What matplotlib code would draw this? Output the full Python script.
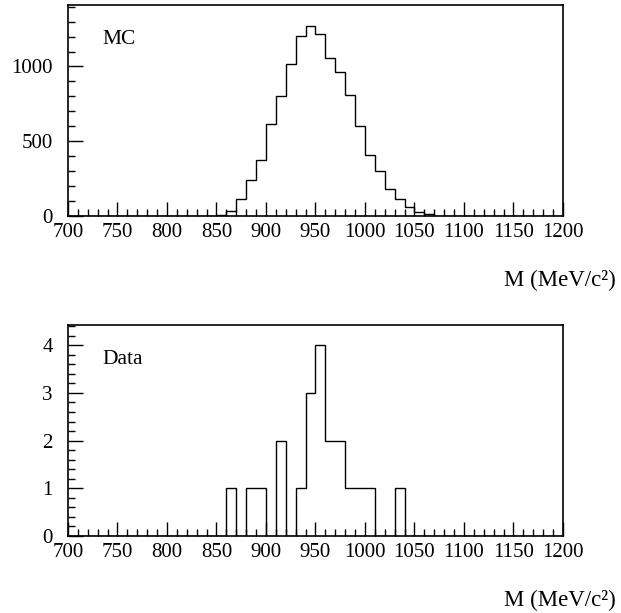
import numpy as np
import matplotlib
matplotlib.use("Agg")
import matplotlib.pyplot as plt
from matplotlib.ticker import MultipleLocator

# ----------------------------
# Data (10 MeV bins, 700-1200)
# ----------------------------
bin_edges = np.arange(700, 1201, 10)

mc_start = 850
mc_counts = [7, 33, 115, 238, 375, 618, 804, 1018, 1204, 1271,
             1216, 1056, 962, 807, 602, 409, 302, 182, 113, 58,
             24, 11, 3]

data_start = 860
data_counts = [1, 0, 1, 1, 0, 2, 0, 1, 3, 4,
               2, 2, 1, 1, 1, 0, 0, 1]

xlabel = "M (MeV/c²)"


def fill_hist(start, counts):
    h = np.zeros(len(bin_edges) - 1)
    i0 = int((start - bin_edges[0]) / 10)
    h[i0:i0 + len(counts)] = counts
    return h


mc_hist = fill_hist(mc_start, mc_counts)
data_hist = fill_hist(data_start, data_counts)

plt.rcParams['font.family'] = ['Liberation Serif', 'DejaVu Serif']

fig = plt.figure(figsize=(6.21, 6.13), dpi=100)
ax1 = fig.add_axes([0.1095, 0.6476, 0.797, 0.344])
ax2 = fig.add_axes([0.1095, 0.1256, 0.797, 0.344])


def style_axis(ax, ymax, major, minor):
    ax.set_xlim(700, 1200)
    ax.set_ylim(0, ymax)
    ax.xaxis.set_major_locator(MultipleLocator(50))
    ax.xaxis.set_minor_locator(MultipleLocator(10))
    ax.yaxis.set_major_locator(MultipleLocator(major))
    ax.yaxis.set_minor_locator(MultipleLocator(minor))
    ax.tick_params(which='both', direction='in', top=False, right=False,
                   labelsize=15, width=1.0, color='black')
    ax.tick_params(which='major', length=10, pad=5)
    ax.tick_params(which='minor', length=5)
    ax.tick_params(axis='y', which='major', length=11, pad=11)
    for s in ax.spines.values():
        s.set_linewidth(1.2)
    ax.text(1.107, -0.305, xlabel, transform=ax.transAxes, ha='right',
            va='center', fontsize=16.5)


ax1.stairs(mc_hist, bin_edges, color='black', linewidth=1.0)
style_axis(ax1, 1410, 500, 100)
ax1.text(0.07, 0.835, "MC", transform=ax1.transAxes, fontsize=15.5, va='center')

ax2.stairs(data_hist, bin_edges, color='black', linewidth=1.0)
style_axis(ax2, 4.42, 1, 0.2)
ax2.text(0.07, 0.835, "Data", transform=ax2.transAxes, fontsize=15.5, va='center')

fig.savefig("out.png", dpi=100)
